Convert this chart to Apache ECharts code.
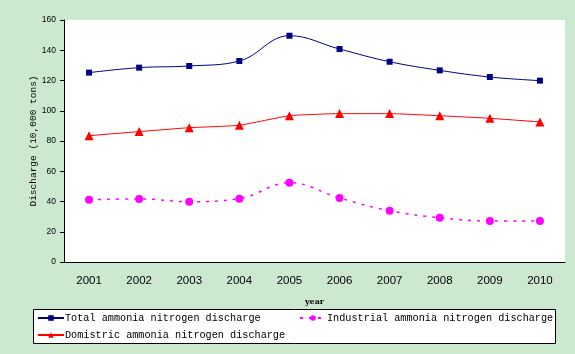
<!DOCTYPE html>
<html>
<head>
<meta charset="utf-8">
<script src="https://cdn.jsdelivr.net/npm/echarts@6/dist/echarts.min.js"></script>
<style>
    html, body { margin: 0; padding: 0; background: #cce8cf; }
    #main { width: 575px; height: 354px; }
</style>
</head>
<body>
<div id="main"></div>
<script>
// 年份
var years = ['2001', '2002', '2003', '2004', '2005', '2006', '2007', '2008', '2009', '2010'];
// 氨氮排放量 (万吨)
var totalDischarge = [125.2, 128.5, 129.6, 132.9, 149.6, 140.8, 132.4, 126.7, 122.3, 119.9];
var industrialDischarge = [41.2, 41.7, 39.9, 41.9, 52.4, 42.3, 33.9, 29.3, 27.1, 27.1];
var domesticDischarge = [83.5, 86.2, 88.8, 90.4, 96.7, 98.1, 98.1, 96.7, 95.0, 92.6];

var seriesNames = ['Total ammonia nitrogen discharge', 'Industrial ammonia nitrogen discharge', 'Domistric ammonia nitrogen discharge'];

var monoFont = '"Liberation Mono", "DejaVu Sans Mono", monospace';

var myChart = echarts.init(document.getElementById('main'));

/**
 * 单个图例
 */
function legendItem(name, left, top) {
    return {
        data: [name],
        left: left,
        top: top,
        orient: 'horizontal',
        itemWidth: 26,
        itemHeight: 7,
        itemGap: 0,
        padding: 0,
        selectedMode: false,
        textStyle: {
            fontFamily: monoFont,
            fontSize: 10.2,
            color: '#000',
            padding: [0, 0, 0, -4]
        }
    };
}

var option = {
    backgroundColor: '#cce8cf',
    animation: false,
    grid: {
        left: 64,
        right: 10,
        top: 20,
        bottom: 92,
        show: true,
        backgroundColor: '#fff',
        borderWidth: 0
    },
    graphic: [{
        type: 'rect',
        left: 33,
        top: 309,
        shape: {width: 522, height: 34},
        style: {fill: '#fff', stroke: '#000', lineWidth: 1},
        z: 0
    }],
    legend: [
        legendItem(seriesNames[0], 37, 313),
        legendItem(seriesNames[1], 299, 313),
        legendItem(seriesNames[2], 37, 330)
    ],
    xAxis: {
        type: 'category',
        data: years,
        boundaryGap: true,
        name: 'year',
        nameLocation: 'middle',
        nameGap: 36,
        nameTextStyle: {
            fontFamily: 'DejaVu Serif',
            fontSize: 8,
            fontWeight: 'bold',
            color: '#000'
        },
        axisLine: {lineStyle: {color: '#000', width: 1}},
        axisTick: {inside: true, length: 4, lineStyle: {color: '#000'}},
        axisLabel: {
            margin: 13,
            fontFamily: '"Liberation Sans", Arial',
            fontSize: 11.5,
            color: '#000'
        }
    },
    yAxis: {
        type: 'value',
        min: 0,
        max: 160,
        interval: 20,
        name: 'Discharge (10,000 tons)',
        nameLocation: 'middle',
        nameRotate: 90,
        nameGap: 26,
        nameMoveOverlap: false,
        nameTextStyle: {
            fontFamily: monoFont,
            fontSize: 9.5,
            color: '#000'
        },
        axisLine: {show: true, lineStyle: {color: '#000', width: 1}},
        axisTick: {show: true, length: 4, lineStyle: {color: '#000'}},
        splitLine: {show: false},
        axisLabel: {
            margin: 8,
            fontFamily: '"Liberation Sans", Arial',
            fontSize: 8.5,
            color: '#000'
        }
    },
    series: [{
        name: seriesNames[0],
        type: 'line',
        data: totalDischarge,
        smooth: 0.4,
        symbol: 'rect',
        symbolSize: 6,
        lineStyle: {color: '#000080', width: 1},
        itemStyle: {color: '#000080'}
    }, {
        name: seriesNames[1],
        type: 'line',
        data: industrialDischarge,
        smooth: 0.4,
        symbol: 'circle',
        symbolSize: 8,
        lineStyle: {color: '#ff00ff', width: 1.5, type: [3, 6]},
        itemStyle: {color: '#ff00ff'}
    }, {
        name: seriesNames[2],
        type: 'line',
        data: domesticDischarge,
        smooth: 0.15,
        symbol: 'triangle',
        symbolSize: 9,
        lineStyle: {color: '#ff0000', width: 1},
        itemStyle: {color: '#ff0000'}
    }]
};

if (option && typeof option === "object") {
    myChart.setOption(option, true);
}
</script>
</body>
</html>
